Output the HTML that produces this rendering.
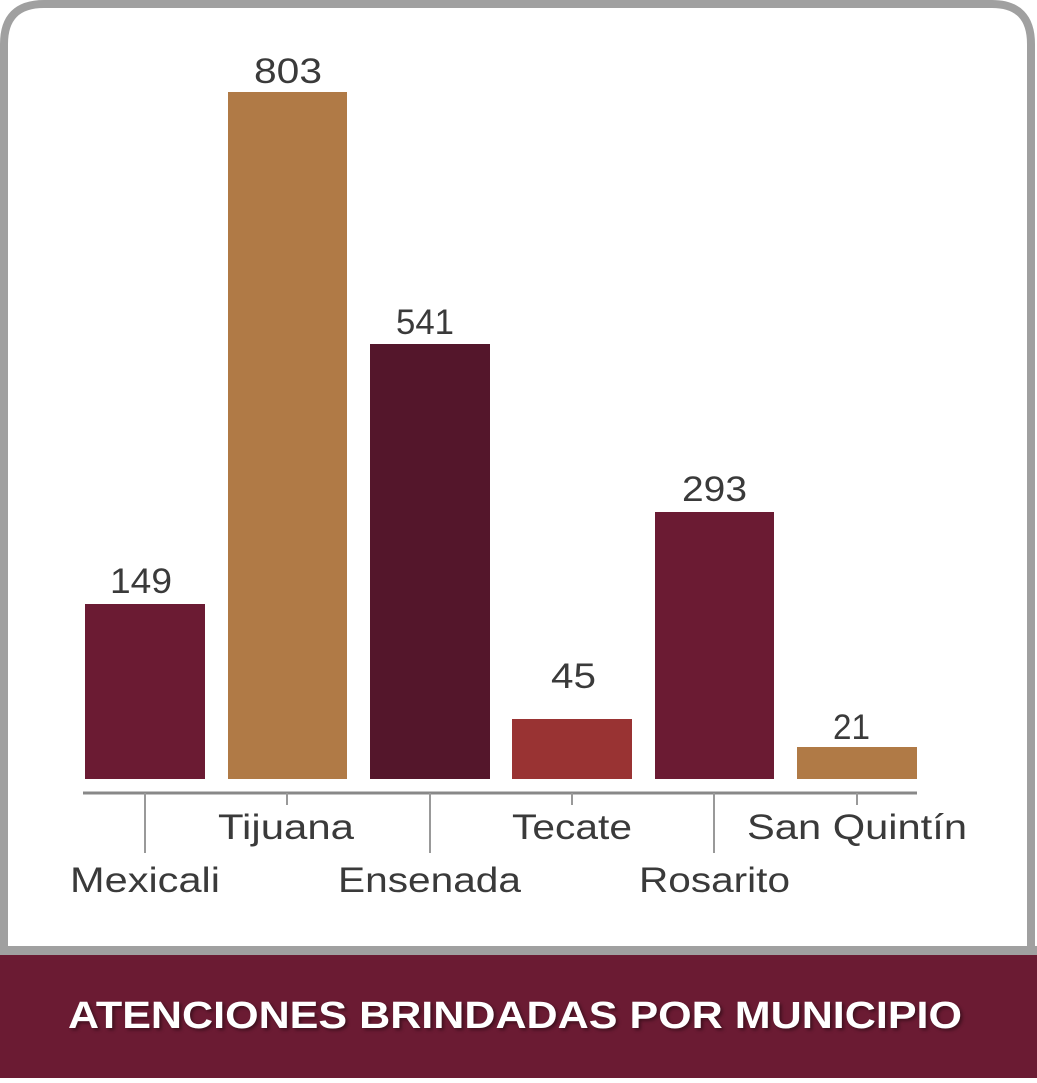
<!DOCTYPE html>
<html><head><meta charset="utf-8"><style>
html,body{margin:0;padding:0;background:#fff}
</style></head><body>
<svg width="1037" height="1078" viewBox="0 0 1037 1078" xmlns="http://www.w3.org/2000/svg" font-family="Liberation Sans, sans-serif">
<rect x="0" y="0" width="1037" height="1078" fill="#fff"/>
<path d="M4,960 L4,44 Q4,4 44,4 L992,4 Q1031,4 1031,44 L1031,960" fill="none" stroke="#a0a0a0" stroke-width="8"/>
<rect x="0" y="946" width="1037" height="10" fill="#a0a0a0"/>
<rect x="0" y="955" width="1037" height="123" fill="#6b1b33"/>
<text x="68" y="1028" textLength="894" lengthAdjust="spacingAndGlyphs" font-size="38" font-weight="bold" fill="#fff" style="text-shadow:2px 2px 3px rgba(0,0,0,.4)">ATENCIONES BRINDADAS POR MUNICIPIO</text>
<g>
<rect x="85" y="604" width="120" height="175" fill="#6b1b33"/>
<rect x="228" y="92" width="119" height="687" fill="#b07a46"/>
<rect x="370" y="344" width="120" height="435" fill="#54162b"/>
<rect x="512" y="719" width="120" height="60" fill="#993333"/>
<rect x="655" y="512" width="119" height="267" fill="#6b1b33"/>
<rect x="797" y="747" width="120" height="32" fill="#b07a46"/>
</g>
<line x1="83" y1="793" x2="917" y2="793" stroke="#888" stroke-width="3"/>
<g stroke="#999" stroke-width="2">
<line x1="145" y1="793" x2="145" y2="853"/>
<line x1="287" y1="793" x2="287" y2="805"/>
<line x1="430" y1="793" x2="430" y2="853"/>
<line x1="572" y1="793" x2="572" y2="805"/>
<line x1="714" y1="793" x2="714" y2="853"/>
<line x1="857" y1="793" x2="857" y2="805"/>
</g>
<g font-size="35" fill="#3a3a3a" lengthAdjust="spacingAndGlyphs">
<text x="110" y="593" textLength="62" lengthAdjust="spacingAndGlyphs">149</text>
<text x="254" y="83" textLength="68" lengthAdjust="spacingAndGlyphs">803</text>
<text x="396" y="334" textLength="58" lengthAdjust="spacingAndGlyphs">541</text>
<text x="551" y="688" textLength="45" lengthAdjust="spacingAndGlyphs">45</text>
<text x="682" y="501" textLength="65" lengthAdjust="spacingAndGlyphs">293</text>
<text x="833" y="739" textLength="37" lengthAdjust="spacingAndGlyphs">21</text>
<text x="70" y="892" textLength="150" lengthAdjust="spacingAndGlyphs">Mexicali</text>
<text x="218" y="839" textLength="136" lengthAdjust="spacingAndGlyphs">Tijuana</text>
<text x="338" y="892" textLength="183" lengthAdjust="spacingAndGlyphs">Ensenada</text>
<text x="512" y="839" textLength="120" lengthAdjust="spacingAndGlyphs">Tecate</text>
<text x="639" y="892" textLength="151" lengthAdjust="spacingAndGlyphs">Rosarito</text>
<text x="747" y="839" textLength="220" lengthAdjust="spacingAndGlyphs">San Quintín</text>
</g>
</svg>
</body></html>
